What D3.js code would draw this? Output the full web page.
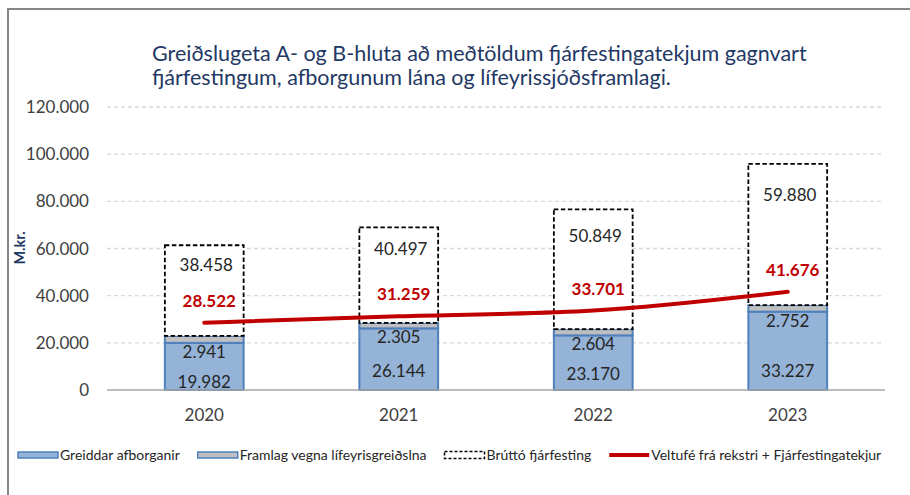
<!DOCTYPE html>
<html>
<head>
<meta charset="utf-8">
<script src="https://cdn.jsdelivr.net/npm/d3@7"></script>
<style>
  body { margin: 0; background: #fff; }
  svg { display: block; font-family: Lato, "Open Sans", sans-serif; }
</style>
</head>
<body>
<svg id="chart" width="910" height="495"></svg>
<script>
var years = ['2020', '2021', '2022', '2023'];
var afborganir = [19982, 26144, 23170, 33227];
var lifeyrir = [2941, 2305, 2604, 2752];
var fjarfesting = [38458, 40497, 50849, 59880];
var veltufe = [28522, 31259, 33701, 41676];
var yTicks = [0, 20000, 40000, 60000, 80000, 100000, 120000];
var titleLines = ['Greiðslugeta A- og B-hluta að meðtöldum fjárfestingatekjum gagnvart',
                  'fjárfestingum, afborgunum lána og lífeyrissjóðsframlagi.'];
var legendNames = ['Greiddar afborganir', 'Framlag vegna lífeyrisgreiðslna', 'Brúttó fjárfesting',
                   'Veltufé frá rekstri + Fjárfestingatekjur'];

function draw() {
    var svg = d3.select('#chart');
    var fmt = v => d3.format(',')(v).replace(/,/g, '.');

    var pLeft = 107, pRight = 885, pTop = 107, pBottom = 390;

    var x = d3.scaleBand().domain(years).range([pLeft, pRight]).padding(0);
    var step = x.step();
    var barW = step * 0.405;
    var y = d3.scaleLinear().domain([0, 120000]).range([pBottom, pTop]);

    // outer border (only top & left visible in the crop)
    svg.append('path')
        .attr('d', 'M8,495 L8,9 L910,9')
        .attr('fill', 'none')
        .attr('stroke', '#868686')
        .attr('stroke-width', 2);

    // title
    svg.append('g').selectAll('text').data(titleLines).enter()
        .append('text')
        .attr('x', 152)
        .attr('y', (d, i) => 61 + i * 24)
        .attr('fill', '#1F3864')
        .attr('font-size', 21.5)
        .text(d => d);

    // gridlines
    svg.append('g').selectAll('line').data(yTicks.slice(1)).enter()
        .append('line')
        .attr('x1', pLeft).attr('x2', pRight - 1)
        .attr('y1', d => y(d)).attr('y2', d => y(d))
        .attr('stroke', '#D9D9D9')
        .attr('stroke-width', 1.3)
        .attr('stroke-dasharray', '4,3');

    // y tick labels
    svg.append('g').selectAll('text').data(yTicks).enter()
        .append('text')
        .attr('x', 89)
        .attr('y', d => y(d))
        .attr('dy', '0.36em')
        .attr('text-anchor', 'end')
        .attr('fill', '#404040')
        .attr('font-size', 17)
        .text(d => fmt(d));

    // y title
    svg.append('text')
        .attr('transform', 'translate(25,248) rotate(-90)')
        .attr('text-anchor', 'middle')
        .attr('fill', '#1F3864')
        .attr('font-weight', 'bold')
        .attr('font-size', 14.5)
        .text('M.kr.');

    var rows = years.map((yr, i) => ({
        year: yr, a: afborganir[i], l: lifeyrir[i], f: fjarfesting[i], v: veltufe[i]
    }));
    var bx = d => x(d.year) + (step - barW) / 2;

    var bars = svg.append('g');
    // blue segment
    bars.selectAll('rect.a').data(rows).enter()
        .append('rect')
        .attr('x', bx)
        .attr('width', barW)
        .attr('y', d => y(d.a))
        .attr('height', d => y(0) - y(d.a))
        .attr('fill', '#95B3D7')
        .attr('stroke', '#4F81BD')
        .attr('stroke-width', 2);
    // grey segment
    bars.selectAll('rect.l').data(rows).enter()
        .append('rect')
        .attr('x', bx)
        .attr('width', barW)
        .attr('y', d => y(d.a + d.l))
        .attr('height', d => y(d.a) - y(d.a + d.l))
        .attr('fill', '#BFBFBF')
        .attr('stroke', '#4F81BD')
        .attr('stroke-width', 2);
    // dashed box
    bars.selectAll('rect.f').data(rows).enter()
        .append('rect')
        .attr('x', bx)
        .attr('width', barW)
        .attr('y', d => y(d.a + d.l + d.f))
        .attr('height', d => y(d.a + d.l) - y(d.a + d.l + d.f))
        .attr('fill', '#fff')
        .attr('stroke', '#000')
        .attr('stroke-width', 1.8)
        .attr('stroke-dasharray', '4.5,2.5');

    // x axis line
    svg.append('line')
        .attr('x1', pLeft).attr('x2', pRight)
        .attr('y1', y(0)).attr('y2', y(0))
        .attr('stroke', '#A6A6A6')
        .attr('stroke-width', 1.5);

    // x labels
    svg.append('g').selectAll('text').data(years).enter()
        .append('text')
        .attr('x', d => x(d) + step / 2)
        .attr('y', 415)
        .attr('dy', '0.36em')
        .attr('text-anchor', 'middle')
        .attr('fill', '#404040')
        .attr('font-size', 17)
        .text(d => d);

    // red line
    var cx = d => x(d.year) + step / 2;
    svg.append('path')
        .datum(rows)
        .attr('d', d3.line().x(cx).y(d => y(d.v)).curve(d3.curveMonotoneX))
        .attr('fill', 'none')
        .attr('stroke', '#C00000')
        .attr('stroke-width', 4)
        .attr('stroke-linecap', 'round');

    // value labels
    var lbl = svg.append('g')
        .attr('font-size', 17)
        .attr('text-anchor', 'middle');

    lbl.selectAll('text.l').data(rows).enter()
        .append('text')
        .attr('x', cx)
        .attr('y', d => y(d.a) + 9)
        .attr('dy', '0.36em')
        .attr('fill', '#262626')
        .text(d => fmt(d.l));

    lbl.selectAll('text.a').data(rows).enter()
        .append('text')
        .attr('x', cx)
        .attr('y', d => Math.max(371, y(d.a) + 39))
        .attr('dy', '0.36em')
        .attr('fill', '#262626')
        .text(d => fmt(d.a));

    lbl.selectAll('text.f').data(rows).enter()
        .append('text')
        .attr('x', d => cx(d) + 2)
        .attr('y', d => {
            var t = y(d.a + d.l + d.f), b = y(d.a + d.l);
            return t + (b - t) * 0.22;
        })
        .attr('dy', '0.36em')
        .attr('fill', '#262626')
        .text(d => fmt(d.f));

    lbl.selectAll('text.v').data(rows).enter()
        .append('text')
        .attr('x', d => cx(d) + 5)
        .attr('y', d => y(d.v) - 22)
        .attr('dy', '0.36em')
        .attr('fill', '#C00000')
        .attr('font-weight', 'bold')
        .text(d => fmt(d.v));

    // legend
    var leg = svg.append('g').attr('font-size', 14).attr('fill', '#262626');
    var lx = 18, ly = 455;
    legendNames.forEach(function (name, i) {
        if (i === 0 || i === 1) {
            leg.append('rect')
                .attr('x', lx).attr('y', ly - 3).attr('width', 40).attr('height', 6)
                .attr('fill', i === 0 ? '#95B3D7' : '#BFBFBF')
                .attr('stroke', '#4F81BD').attr('stroke-width', 1.5);
        } else if (i === 2) {
            leg.append('rect')
                .attr('x', lx).attr('y', ly - 3.5).attr('width', 40).attr('height', 7)
                .attr('fill', '#fff')
                .attr('stroke', '#000').attr('stroke-width', 1.5)
                .attr('stroke-dasharray', '3,2');
        } else {
            leg.append('line')
                .attr('x1', lx).attr('x2', lx + 40).attr('y1', ly).attr('y2', ly)
                .attr('stroke', '#C00000').attr('stroke-width', 4);
        }
        var t = leg.append('text')
            .attr('x', lx + 42).attr('y', ly)
            .attr('dy', '0.36em')
            .text(name);
        lx += 42 + t.node().getComputedTextLength() + 18;
    });
}

draw();
</script>
</body>
</html>
